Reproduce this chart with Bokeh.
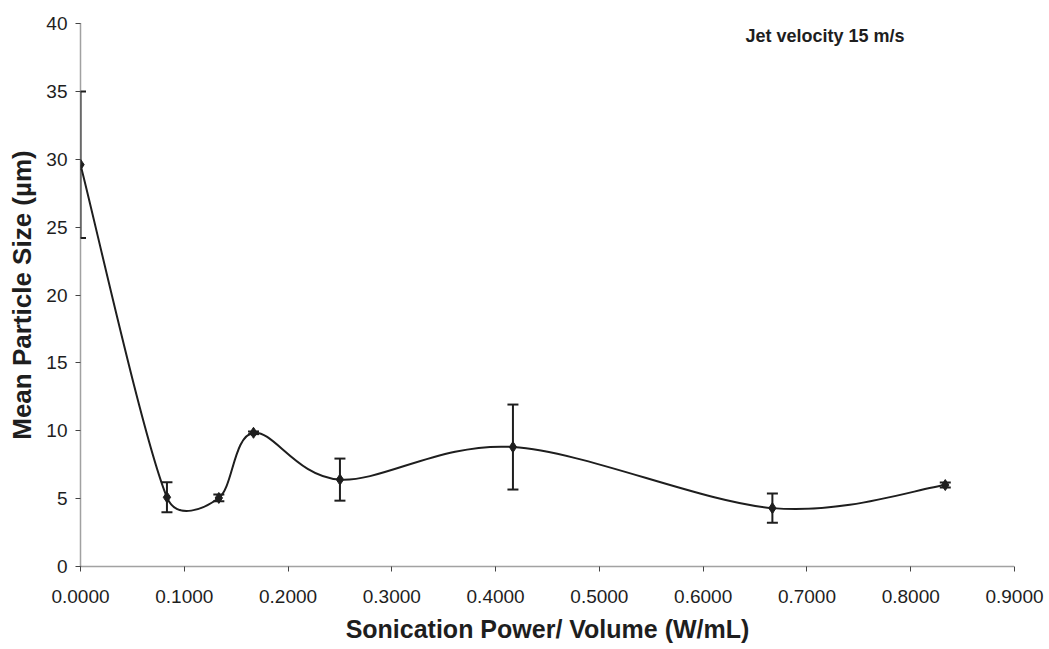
import math
from bokeh.plotting import figure
from bokeh.models import ColumnDataSource, Whisker, TeeHead, NumeralTickFormatter, FixedTicker, Range1d, Label
from bokeh.embed import file_html
from bokeh.resources import INLINE

# ---- data ----
power = [0.0, 0.0833, 0.1333, 0.1667, 0.25, 0.4167, 0.6667, 0.8333]
size = [29.6, 5.1, 5.05, 9.85, 6.4, 8.8, 4.3, 6.0]
err = [5.4, 1.1, 0.25, 0.1, 1.55, 3.13, 1.08, 0.18]
x_ticks = [0.0, 0.1, 0.2, 0.3, 0.4, 0.5, 0.6, 0.7, 0.8, 0.9]
y_ticks = [0, 5, 10, 15, 20, 25, 30, 35, 40]
x_label = "Sonication Power/ Volume (W/mL)"
y_label = "Mean Particle Size (µm)"
note = "Jet velocity 15 m/s"

X0, X1 = 0.0, 0.9
Y0, Y1 = 0.0, 40.0
FW, FH = 934, 543
FONT = "Liberation Sans"
INK = "#1e1e1e"

p = figure(frame_width=FW, frame_height=FH, output_backend="svg", toolbar_location=None,
           x_range=Range1d(X0, X1), y_range=Range1d(Y0, Y1),
           min_border_left=80, min_border_right=30, min_border_top=23, min_border_bottom=60)
p.outline_line_color = None
p.grid.visible = False
p.background_fill_color = "white"
p.border_fill_color = "white"

# smoothed line (Excel-style Bezier smoothing computed in screen space)
sx = FW / (X1 - X0)
sy = FH / (Y1 - Y0)
pts = [(x * sx, y * sy) for x, y in zip(power, size)]
n = len(pts)
def dist(a, b):
    return math.hypot(a[0] - b[0], a[1] - b[1])
bx0, by0, bx1, by1, bcx0, bcy0, bcx1, bcy1 = [], [], [], [], [], [], [], []
for i in range(n - 1):
    q0 = pts[i - 1] if i > 0 else pts[i]
    q1 = pts[i]
    q2 = pts[i + 1]
    q3 = pts[i + 2] if i + 2 < n else pts[i + 1]
    d12 = dist(q1, q2)
    d02 = dist(q0, q2)
    d13 = dist(q1, q3)
    f1 = 1 / 6 if d02 / 6 < d12 / 2 else d12 / (2 * d02)
    f2 = 1 / 6 if d13 / 6 < d12 / 2 else d12 / (2 * d13)
    c1 = (q1[0] + f1 * (q2[0] - q0[0]), q1[1] + f1 * (q2[1] - q0[1]))
    c2 = (q2[0] - f2 * (q3[0] - q1[0]), q2[1] - f2 * (q3[1] - q1[1]))
    bx0.append(q1[0] / sx); by0.append(q1[1] / sy)
    bx1.append(q2[0] / sx); by1.append(q2[1] / sy)
    bcx0.append(c1[0] / sx); bcy0.append(c1[1] / sy)
    bcx1.append(c2[0] / sx); bcy1.append(c2[1] / sy)
p.bezier(x0=bx0, y0=by0, x1=bx1, y1=by1, cx0=bcx0, cy0=bcy0, cx1=bcx1, cy1=bcy1,
         line_color=INK, line_width=2)

src = ColumnDataSource(dict(x=power, y=size,
                            up=[v + e for v, e in zip(size, err)],
                            lo=[v - e for v, e in zip(size, err)]))
w = Whisker(source=src, base="x", upper="up", lower="lo", dimension="height",
            line_color=INK, line_width=2,
            upper_head=TeeHead(size=11, line_color=INK, line_width=2),
            lower_head=TeeHead(size=11, line_color=INK, line_width=2))
p.add_layout(w)
p.scatter("x", "y", source=src, marker="diamond", size=11, fill_color=INK, line_color=INK)

# axes
for ax in (p.xaxis[0], p.yaxis[0]):
    ax.axis_line_color = "#444444"
    ax.axis_line_dash = "1 1"
    ax.axis_line_width = 1.5
    ax.major_tick_line_color = "#444444"
    ax.major_tick_out = 5
    ax.major_tick_in = 0
    ax.minor_tick_line_color = None
    ax.major_label_text_font = FONT
    ax.major_label_text_font_size = "19px"
    ax.major_label_text_color = INK
    ax.axis_label_text_font = FONT
    ax.axis_label_text_font_style = "bold"
    ax.axis_label_text_color = INK

p.xaxis.ticker = FixedTicker(ticks=x_ticks)
p.xaxis.formatter = NumeralTickFormatter(format="0.0000")
p.xaxis.axis_label = x_label
p.xaxis.axis_label_text_font_size = "25px"
p.xaxis.major_label_standoff = 18
p.xaxis.axis_label_standoff = 9

p.yaxis.ticker = FixedTicker(ticks=y_ticks)
p.yaxis.axis_label = y_label
p.yaxis.axis_label_text_font_size = "26px"
p.yaxis.major_label_standoff = 8
p.yaxis.axis_label_standoff = 6

p.add_layout(Label(x=0.6407, y=39.1, text=note, text_font=FONT, text_font_size="18px",
                   text_font_style="bold", text_color=INK, text_baseline="middle"))

open("out.html", "w").write(file_html(p, INLINE))
